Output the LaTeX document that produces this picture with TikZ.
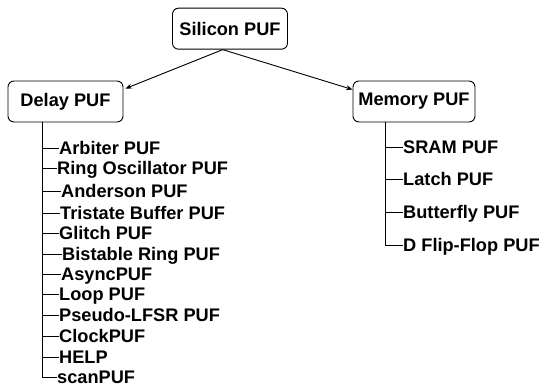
\documentclass[tikz,border=0pt]{standalone}
\usepackage{fontspec}
\setmainfont{Liberation Sans}
\usetikzlibrary{arrows.meta,calc}
\begin{document}
\begin{tikzpicture}[x=1pt,y=-1pt,
  box/.style={draw,line width=0.9pt,rounded corners=6pt,minimum height=41pt,inner sep=0pt,font=\fontsize{18.2}{20}\selectfont\bfseries},
  item/.style={anchor=west,inner sep=0pt,text height=12.8pt,text depth=0pt,font=\fontsize{18.2}{20}\selectfont\bfseries},
  link/.style={line width=0.9pt},
  arr/.style={line width=0.9pt,-{Stealth[length=6.5pt,width=5pt]}}]
\useasboundingbox (0,0) rectangle (539,387);
\node[box,minimum width=115pt] (si) at (230,28.7) {Silicon PUF};
\node[box,minimum width=115pt] (de) at (65.5,101.5) {Delay PUF};
\node[box,minimum width=122pt] (me) at (414,101.5) {Memory PUF};
\coordinate (s0) at ($(si.south)+(-7.3,0)$);
\draw[arr] (s0) -- ($(de.north east)+(2,8)$);
\draw[arr] (s0) -- ($(me.north west)+(0,9)$);
% delay items
\coordinate (dt) at (42,122);
\node[item] (d1) at (59,148) {Arbiter PUF};
\node[item] (d2) at (57,168) {Ring Oscillator PUF};
\node[item] (d3) at (61,191) {Anderson PUF};
\node[item] (d4) at (60,213) {Tristate Buffer PUF};
\node[item] (d5) at (59,233) {Glitch PUF};
\node[item] (d6) at (62,254) {Bistable Ring PUF};
\node[item] (d7) at (61,274) {AsyncPUF};
\node[item] (d8) at (59,294) {Loop PUF};
\node[item] (d9) at (59,315) {Pseudo-LFSR PUF};
\node[item] (d10) at (59,336) {ClockPUF};
\node[item] (d11) at (59,357) {HELP};
\node[item] (d12) at (57,377) {scanPUF};
\foreach \i in {1,...,12} \draw[link] (dt) |- (d\i.west);
% memory items
\coordinate (mt) at (385,122);
\node[item] (m1) at (403,147) {SRAM PUF};
\node[item] (m2) at (403,179) {Latch PUF};
\node[item] (m3) at (403,212) {Butterfly PUF};
\node[item] (m4) at (403,245) {D Flip-Flop PUF};
\foreach \i in {1,...,4} \draw[link] (mt) |- (m\i.west);
\end{tikzpicture}
\end{document}
